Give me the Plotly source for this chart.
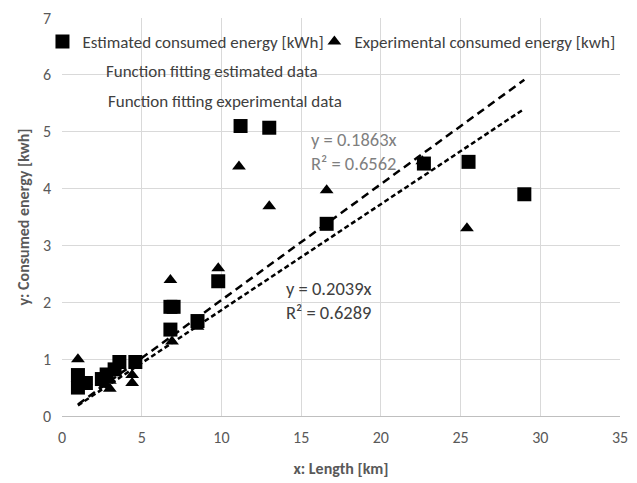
import numpy as np
import plotly.graph_objects as go

# ---- data ----
est_x = [1.0, 1.0, 1.5, 2.5, 2.8, 3.3, 3.6, 4.6, 6.8, 6.8, 7.0, 8.5, 9.8, 11.2, 13.0, 16.6, 22.7, 25.5, 29.0]
est_y = [0.72, 0.50, 0.58, 0.65, 0.73, 0.82, 0.95, 0.95, 1.52, 1.92, 1.92, 1.67, 2.37, 5.10, 5.07, 3.38, 4.44, 4.47, 3.90]
exp_x = [1.0, 1.5, 2.7, 3.0, 3.0, 4.4, 4.4, 6.8, 6.9, 8.5, 9.8, 11.1, 13.0, 16.6, 22.6, 25.4]
exp_y = [1.00, 0.60, 0.55, 0.62, 0.48, 0.72, 0.58, 2.39, 1.31, 1.57, 2.60, 4.39, 3.69, 3.97, 4.48, 3.30]

est_slope, est_r2 = 0.2039, 0.6289
exp_slope, exp_r2 = 0.1863, 0.6562

x_ticks = [0, 5, 10, 15, 20, 25, 30, 35]
y_ticks = [0, 1, 2, 3, 4, 5, 6, 7]

names = ["Estimated consumed energy [kWh]", "Experimental consumed energy [kwh]",
         "Function fitting estimated data", "Function fitting experimental data"]

FONT = "Carlito, Lato, sans-serif"
LEG_SIZE = 17
LBL_SIZE = 18.5
TICK_SIZE = 16

all_x = est_x + exp_x
fit_x = np.array([min(all_x), max(all_x)])

fig = go.Figure()

fig.add_trace(go.Scatter(
    x=fit_x, y=est_slope * fit_x, mode="lines", showlegend=False,
    legendgroup="fe", hoverinfo="skip",
    line=dict(color="black", width=2.5, dash="8px,5px")))
fig.add_trace(go.Scatter(
    x=fit_x, y=exp_slope * fit_x, mode="lines", showlegend=False,
    legendgroup="fx", hoverinfo="skip",
    line=dict(color="black", width=2.5, dash="5px,3px")))

fig.add_trace(go.Scatter(
    x=exp_x, y=exp_y, mode="markers", name=names[1], legend="legend2",
    marker=dict(symbol="triangle-up", size=12, color="black")))
fig.add_trace(go.Scatter(
    x=est_x, y=est_y, mode="markers", name=names[0], legend="legend",
    marker=dict(symbol="square", size=14, color="black")))

# legend entries for the fitted functions (no visible sample, as in the reference)
fig.add_trace(go.Scatter(
    x=[None], y=[None], mode="lines", name=names[2], legend="legend3",
    legendgroup="fe", line=dict(color="rgba(0,0,0,0)", width=0)))
fig.add_trace(go.Scatter(
    x=[None], y=[None], mode="lines", name=names[3], legend="legend4",
    legendgroup="fx", line=dict(color="rgba(0,0,0,0)", width=0)))

leg_common = dict(bgcolor="rgba(0,0,0,0)", borderwidth=0,
                  font=dict(family=FONT, size=LEG_SIZE, color="#404040"),
                  xanchor="left", yanchor="middle")

def label(x, y, text, color):
    return dict(x=x, y=y, xref="x", yref="y", xanchor="left", yanchor="middle",
                align="left", showarrow=False, text=text,
                font=dict(family=FONT, size=LBL_SIZE, color=color))

fig.update_layout(
    width=637, height=483,
    margin=dict(l=62, r=9, t=17, b=65),
    paper_bgcolor="white", plot_bgcolor="white",
    font=dict(family=FONT, size=TICK_SIZE, color="#595959"),
    legend=dict(x=-0.035, y=0.940, **leg_common),
    legend2=dict(x=0.4523, y=0.940, **leg_common),
    legend3=dict(x=0.007, y=0.868, **leg_common),
    legend4=dict(x=0.0106, y=0.793, **leg_common),
    xaxis=dict(
        range=[0, 35], tickvals=x_ticks, ticktext=[str(v) for v in x_ticks],
        showgrid=True, gridcolor="#d9d9d9", gridwidth=1,
        zeroline=False, showline=True, linecolor="#bfbfbf", linewidth=1,
        ticks="", ticklabelstandoff=7,
        tickfont=dict(family=FONT, size=TICK_SIZE, color="#595959"),
        title=dict(text="<b>x: Length [km]</b>", standoff=16,
                   font=dict(family=FONT, size=TICK_SIZE, color="#595959"))),
    yaxis=dict(
        range=[0, 7], tickvals=y_ticks, ticktext=[str(v) for v in y_ticks],
        showgrid=True, gridcolor="#d9d9d9", gridwidth=1,
        zeroline=False, showline=False,
        ticks="", ticklabelstandoff=10,
        tickfont=dict(family=FONT, size=TICK_SIZE, color="#595959"),
        title=dict(text="<b>y: Consumed energy [kwh]</b>", standoff=9,
                   font=dict(family=FONT, size=TICK_SIZE, color="#595959"))),
    annotations=[
        label(13.9, 2.03, f"y = {est_slope:.4f}x<br>R² = {est_r2:.4f}", "#404040"),
        label(15.5, 4.66, f"y = {exp_slope:.4f}x<br>R² = {exp_r2:.4f}", "#7f7f7f"),
    ],
)

fig.write_html("out.html")
